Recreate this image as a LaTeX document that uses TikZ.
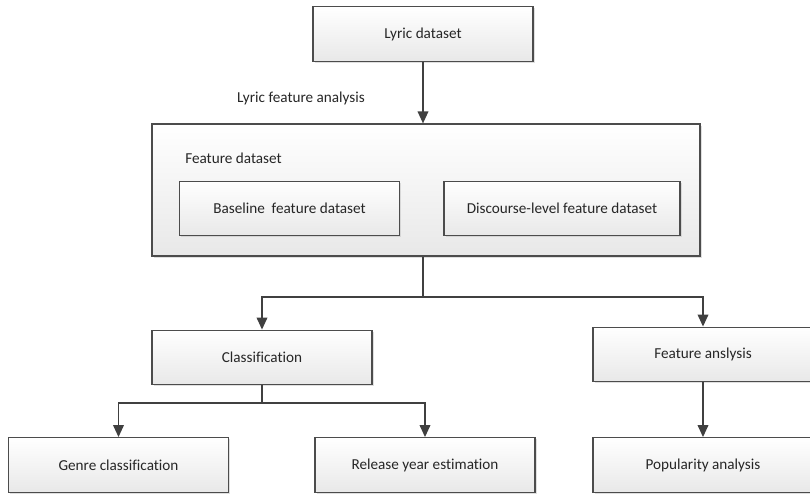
\documentclass[tikz,border=0pt]{standalone}
\usepackage{fontspec}
\setmainfont{Carlito}[Ligatures=NoCommon]
\usetikzlibrary{arrows.meta,shadows}

\tikzset{
  box/.style={draw=black!70, line width=0.9pt, top color=white, bottom color=black!9,
    drop shadow={shadow xshift=1.2pt, shadow yshift=-1.2pt, fill=black!25, opacity=0.5},
    minimum width=165pt, minimum height=41pt, inner sep=0pt,
    font=\fontsize{11.4}{13}\selectfont, text=black!85},
  conn/.style={draw=black!75, line width=1.1pt},
  arr/.style={conn, -{Triangle[width=8pt,length=9pt]}},
}

\begin{document}
\begin{tikzpicture}[x=0.75pt,y=-0.75pt]
            \useasboundingbox (0,0) rectangle (810,494);

            % top
            \node[box] (lyric) at (423,34) {Lyric dataset};
            \node[font=\fontsize{11.4}{13}\selectfont, text=black!85] (lfa) at (301,98) {Lyric feature analysis};

            % feature dataset
            \node[box, minimum width=411pt, minimum height=99pt] (feat) at (426,190) {};
            \node[anchor=west, inner sep=0pt, font=\fontsize{11.4}{13}\selectfont, text=black!85] (featlbl) at (185,158) {Feature dataset};
            \node[box] (base) at (289.5,208.5) {Baseline\ \ feature dataset};
            \node[box, minimum width=177pt] (disc) at (562,208.5) {Discourse-level feature dataset};

            % second row
            \node[box] (cls) at (262,357.5) {Classification};
            \node[box] (fana) at (703,354.5) {Feature anslysis};

            % bottom row
            \node[box] (genre) at (118.5,465) {Genre classification};
            \node[box] (year) at (425,465) {Release year estimation};
            \node[box] (pop) at (703,465) {Popularity analysis};

            \draw[arr] (lyric.south) -- (lyric.south |- feat.north);

            \coordinate (j_1) at (lyric.south |- 0,297);
            \draw[conn] (j_1 |- feat.south) -- (j_1);
            \draw[arr] (j_1) -| (cls.north);
            \draw[arr] (j_1) -| (fana.north);

            \coordinate (j_2) at (cls.south |- 0,403);
            \draw[conn] (cls.south) -- (j_2);
            \draw[arr] (j_2) -| (genre.north);
            \draw[arr] (j_2) -| (year.north);

            \draw[arr] (fana.south) -- (pop.north);
          \end{tikzpicture}
\end{document}
